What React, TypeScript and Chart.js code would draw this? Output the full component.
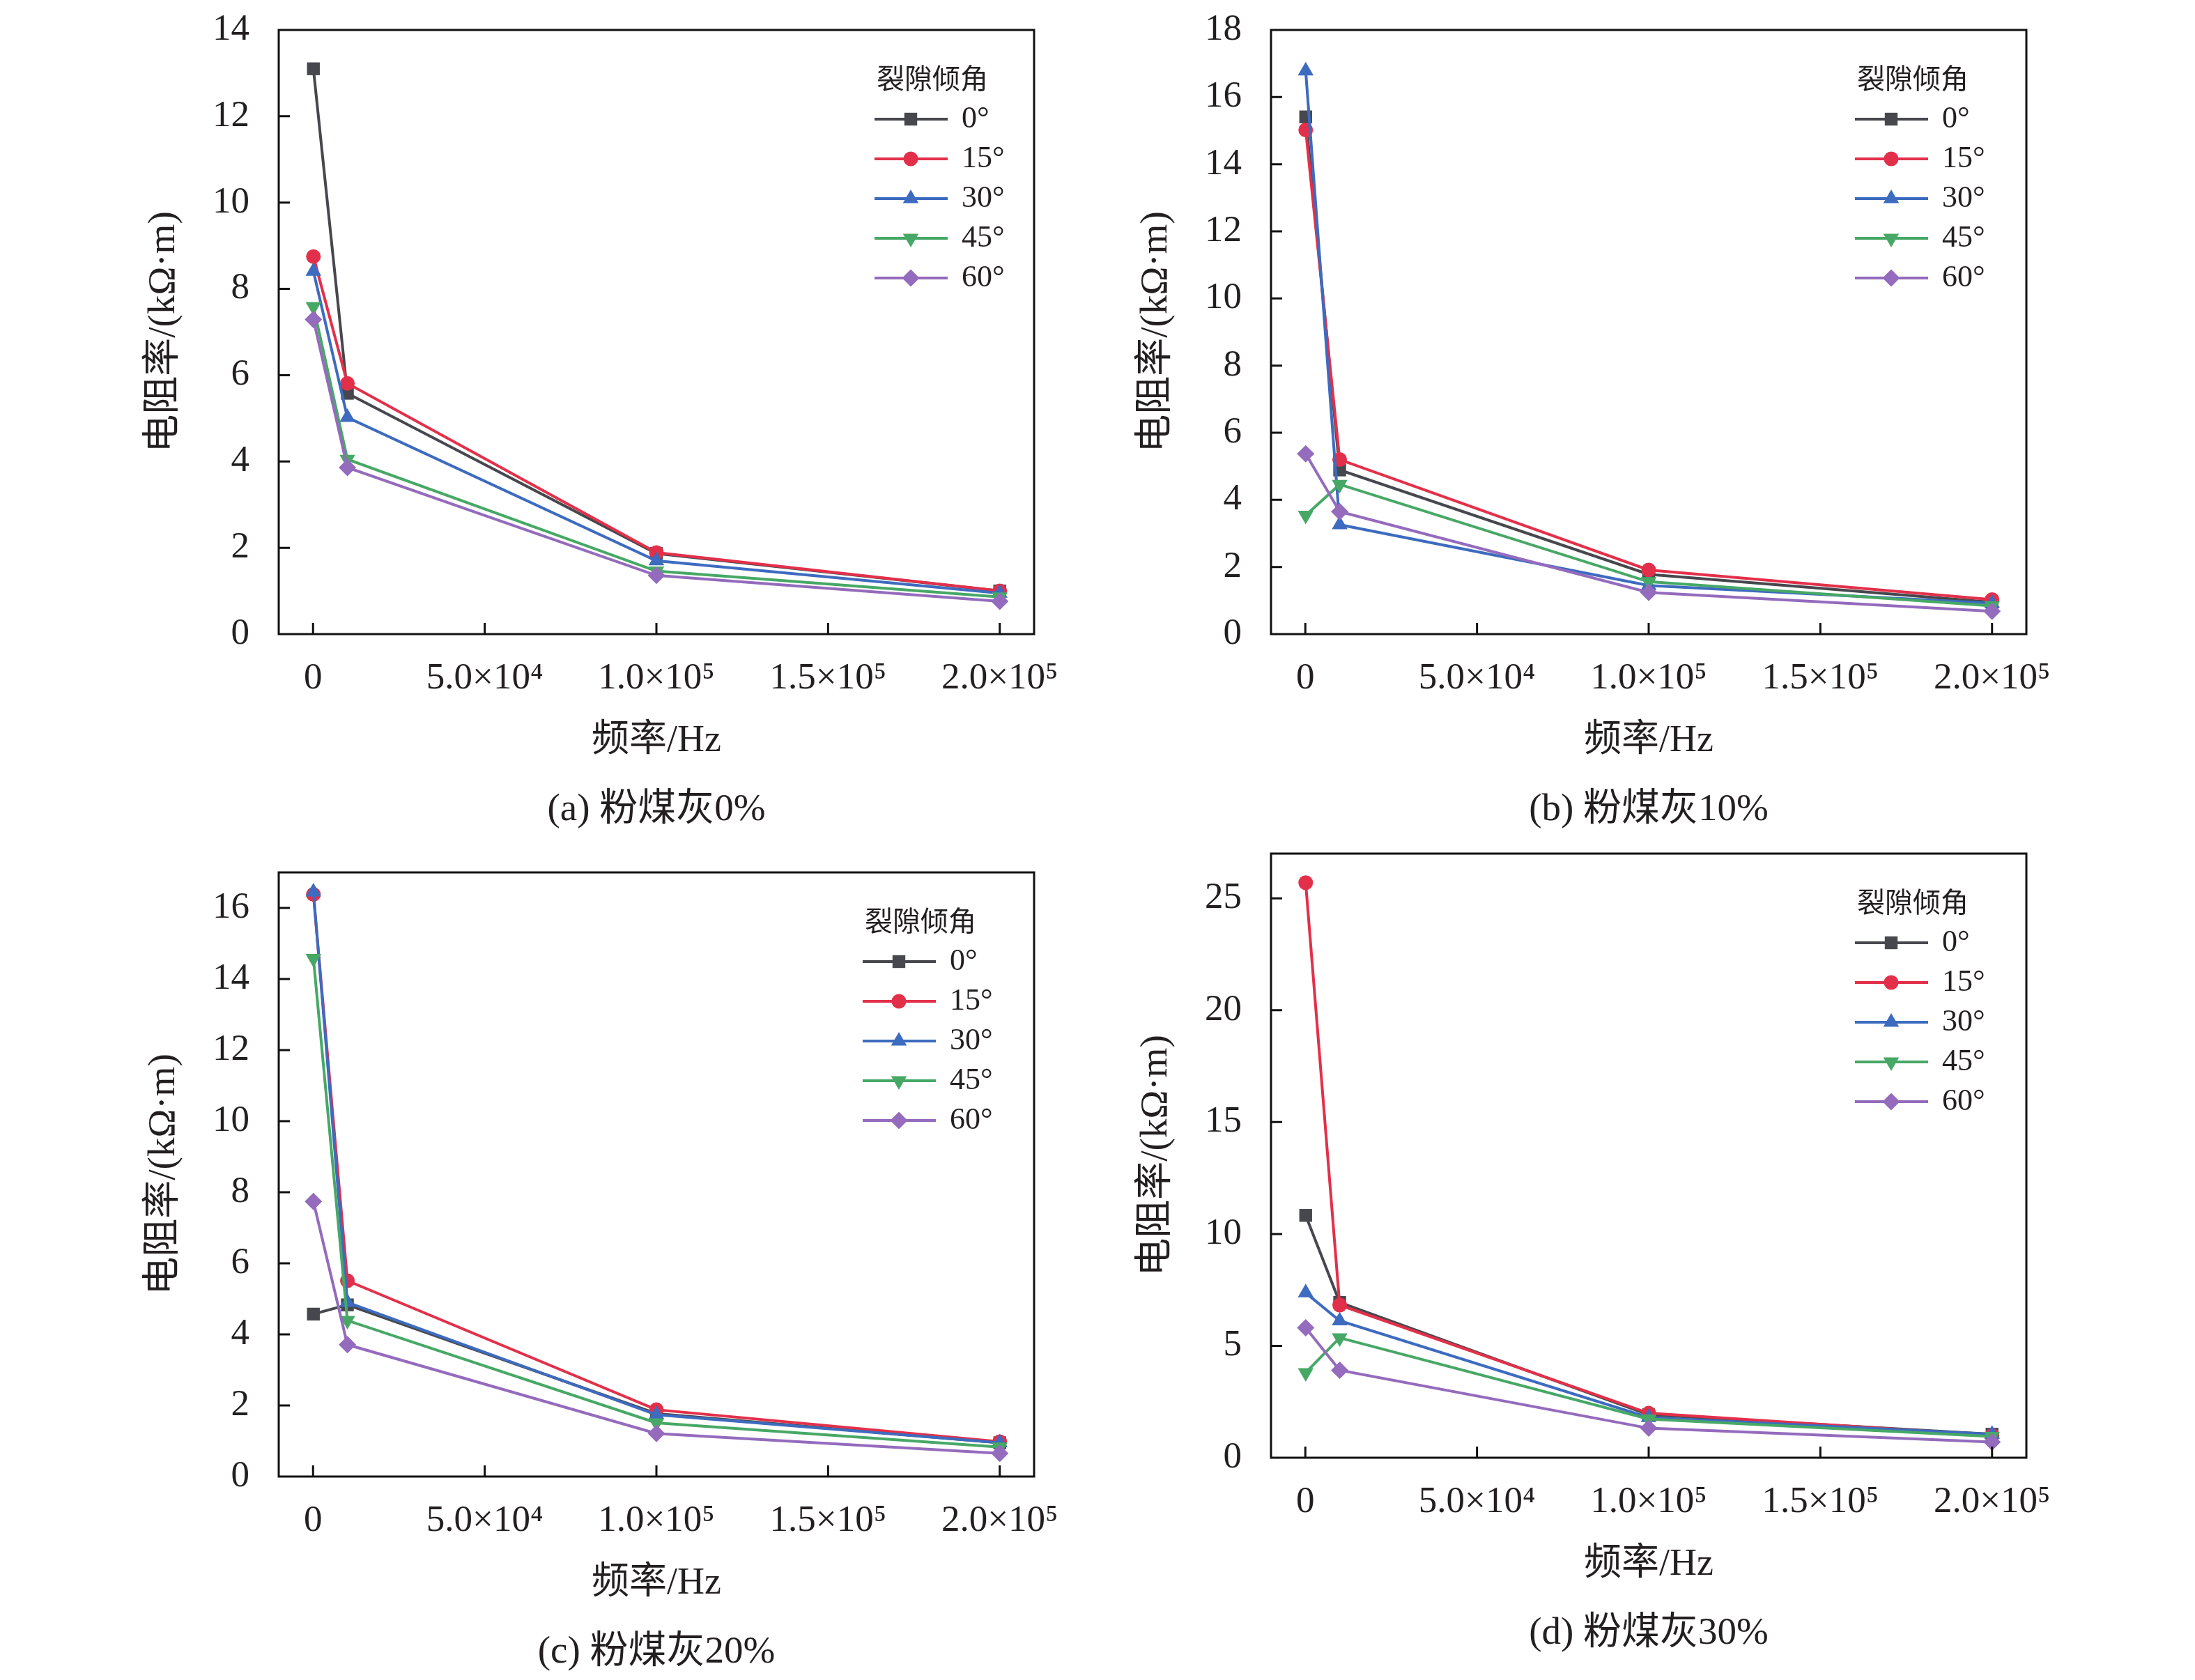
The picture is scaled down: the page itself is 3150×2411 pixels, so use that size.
import React, { useEffect, useRef } from "react";
import { Chart, registerables } from "chart.js";
import { drawPoint } from "chart.js/helpers";

Chart.register(...registerables);

// 频率 (Hz)
const frequency = [100, 10000, 100000, 200000];
const xTicks = [0, 50000, 100000, 150000, 200000];
const xTickLabels = ["0", "5.0×10⁴", "1.0×10⁵", "1.5×10⁵", "2.0×10⁵"];

// 裂隙倾角
const angleLabels = ["0°", "15°", "30°", "45°", "60°"];
const legendTitle = "裂隙倾角";

// 电阻率 (kΩ·m), one row per angle
const ash0 = [
  [13.1, 5.58, 1.87, 1.0],
  [8.75, 5.81, 1.89, 1.0],
  [8.41, 5.02, 1.7, 0.95],
  [7.59, 4.05, 1.46, 0.86],
  [7.29, 3.86, 1.36, 0.76],
];
const ash10 = [
  [15.41, 4.89, 1.78, 0.95],
  [15.02, 5.2, 1.91, 1.03],
  [16.78, 3.26, 1.45, 0.92],
  [3.54, 4.46, 1.56, 0.84],
  [5.37, 3.65, 1.24, 0.68],
];
const ash20 = [
  [4.57, 4.83, 1.77, 0.95],
  [16.38, 5.51, 1.88, 0.98],
  [16.45, 4.9, 1.74, 0.95],
  [14.58, 4.39, 1.51, 0.83],
  [7.74, 3.71, 1.21, 0.65],
];
const ash30 = [
  [10.83, 6.94, 1.92, 1.05],
  [25.7, 6.82, 1.99, 1.0],
  [7.37, 6.12, 1.8, 1.05],
  [3.8, 5.36, 1.73, 0.95],
  [5.81, 3.91, 1.32, 0.7],
];

const yTicks0 = [0, 2, 4, 6, 8, 10, 12, 14];
const yTicks10 = [0, 2, 4, 6, 8, 10, 12, 14, 16, 18];
const yTicks20 = [0, 2, 4, 6, 8, 10, 12, 14, 16];
const yTicks30 = [0, 5, 10, 15, 20, 25];

const seriesColors = ["#46484e", "#e3304a", "#3d6bbf", "#47a866", "#946bbd"];
const pointStyles = ["rect", "circle", "triangle", "triangle", "rectRot"];
const pointRotations = [0, 0, 0, 180, 0];
const pointRadii = [13, 10.5, 13, 13, 12.5];

const textColor = "#231f20";
const fontFamily = "'Liberation Serif', 'Noto Sans CJK SC', serif";

const CANVAS_W = 1560;
const CANVAS_H = 1096;

const framePlugin = {
  id: "frameTicks",
  afterDraw(chart: any) {
    const { ctx, chartArea, scales } = chart;
    const { left, right, top, bottom } = chartArea;
    ctx.save();
    ctx.strokeStyle = "#111";
    ctx.lineWidth = 3;
    ctx.strokeRect(left, top, right - left, bottom - top);
    ctx.beginPath();
    scales.x.ticks.forEach((t: any) => {
      const px = scales.x.getPixelForValue(t.value);
      ctx.moveTo(px, bottom);
      ctx.lineTo(px, bottom - 16);
    });
    scales.y.ticks.forEach((t: any) => {
      const py = scales.y.getPixelForValue(t.value);
      if (py >= bottom - 1 || py <= top + 1) return;
      ctx.moveTo(left, py);
      ctx.lineTo(left + 16, py);
    });
    ctx.stroke();
    ctx.restore();
  },
};

const legendPlugin = {
  id: "angleLegend",
  afterDatasetsDraw(chart: any, _args: any, opts: any) {
    const { ctx, chartArea } = chart;
    const x0 = chartArea.right - opts.offsetX;
    ctx.save();
    ctx.textBaseline = "middle";
    ctx.textAlign = "left";
    ctx.fillStyle = textColor;
    ctx.font = `40px ${fontFamily}`;
    ctx.fillText(legendTitle, x0 + 3, chartArea.top + 73);
    chart.data.datasets.forEach((ds: any, i: number) => {
      const y = chartArea.top + 128 + i * 57;
      ctx.strokeStyle = ds.borderColor;
      ctx.lineWidth = 4;
      ctx.beginPath();
      ctx.moveTo(x0, y);
      ctx.lineTo(x0 + 105, y);
      ctx.stroke();
      ctx.fillStyle = ds.borderColor;
      drawPoint(
        ctx,
        { pointStyle: ds.pointStyle, rotation: ds.pointRotation, radius: ds.pointRadius, borderWidth: 0 },
        x0 + 52,
        y
      );
      ctx.fillStyle = textColor;
      ctx.font = `44px ${fontFamily}`;
      ctx.fillText(ds.label, x0 + 125, y);
    });
    ctx.restore();
  },
};

interface PanelProps {
  series: number[][];
  yMax: number;
  yTicks: number[];
  legendOffset: number;
  left: number;
  top: number;
}

const ResistivityPanel: React.FC<PanelProps> = ({ series, yMax, yTicks, legendOffset, left, top }) => {
  const canvasRef = useRef<HTMLCanvasElement>(null);

  useEffect(() => {
    if (!canvasRef.current) return;
    const chart = new Chart(canvasRef.current, {
      type: "line",
      data: {
        datasets: series.map((vals, i) => ({
          label: angleLabels[i],
          data: frequency.map((f, j) => ({ x: f, y: vals[j] })),
          borderColor: seriesColors[i],
          backgroundColor: seriesColors[i],
          pointBackgroundColor: seriesColors[i],
          pointBorderColor: seriesColors[i],
          pointBorderWidth: 0,
          pointStyle: pointStyles[i] as any,
          pointRotation: pointRotations[i],
          pointRadius: pointRadii[i],
          borderWidth: 4,
          tension: 0,
          order: 4 - i,
        })),
      },
      options: {
        responsive: false,
        animation: false,
        devicePixelRatio: 1,
        layout: { padding: { top: 43, right: 76, bottom: 0, left: 0 } },
        scales: {
          x: {
            type: "linear",
            min: -10000,
            max: 210000,
            afterBuildTicks: (s: any) => {
              s.ticks = xTicks.map((v) => ({ value: v }));
            },
            afterFit: (s: any) => {
              s.height = 186;
              s.paddingLeft = 0;
              s.paddingRight = 0;
            },
            grid: { display: false, drawTicks: false },
            border: { display: false },
            ticks: {
              autoSkip: false,
              maxRotation: 0,
              padding: 32,
              color: textColor,
              font: { size: 53, family: fontFamily },
              callback: (v: any) => xTickLabels[xTicks.indexOf(Number(v))],
            },
            title: {
              display: true,
              text: "频率/Hz",
              color: textColor,
              font: { size: 54, family: fontFamily },
              padding: { top: 0, bottom: 0 },
            },
          },
          y: {
            type: "linear",
            min: 0,
            max: yMax,
            afterBuildTicks: (s: any) => {
              s.ticks = yTicks.map((v) => ({ value: v }));
            },
            afterFit: (s: any) => {
              s.width = 400;
              s.paddingTop = 0;
              s.paddingBottom = 0;
            },
            grid: { display: false, drawTicks: false },
            border: { display: false },
            ticks: {
              padding: 42,
              color: textColor,
              font: { size: 53, family: fontFamily },
            },
            title: {
              display: true,
              text: "电阻率/(kΩ·m)",
              color: textColor,
              font: { size: 55, family: fontFamily },
              padding: { top: 203, bottom: 0 },
            },
          },
        },
        plugins: {
          legend: { display: false },
          tooltip: { enabled: false },
          angleLegend: { offsetX: legendOffset },
        } as any,
      },
      plugins: [framePlugin, legendPlugin],
    });
    return () => chart.destroy();
  }, [series, yMax, yTicks, legendOffset]);

  return (
    <div style={{ position: "absolute", left, top, width: CANVAS_W, height: CANVAS_H }}>
      <canvas ref={canvasRef} width={CANVAS_W} height={CANVAS_H} />
    </div>
  );
};

const Caption: React.FC<{ text: string; x: number; y: number }> = ({ text, x, y }) => (
  <div
    style={{
      position: "absolute",
      left: x,
      top: y,
      transform: "translate(-50%, -50%)",
      whiteSpace: "nowrap",
      fontSize: 55,
      lineHeight: 1,
      fontFamily,
      color: textColor,
    }}
  >
    {text}
  </div>
);

export default function App() {
  return (
    <div style={{ position: "absolute", left: 0, top: 0, width: 3150, height: 2411, background: "#fff", overflow: "hidden" }}>
      <ResistivityPanel series={ash0} yMax={14} yTicks={yTicks0} legendOffset={229} left={0} top={0} />
      <ResistivityPanel series={ash10} yMax={18} yTicks={yTicks10} legendOffset={246} left={1424} top={0} />
      <ResistivityPanel series={ash20} yMax={17} yTicks={yTicks20} legendOffset={246} left={0} top={1209} />
      <ResistivityPanel series={ash30} yMax={27} yTicks={yTicks30} legendOffset={246} left={1424} top={1182} />
      <Caption text="(a) 粉煤灰0%" x={942} y={1158} />
      <Caption text="(b) 粉煤灰10%" x={2366} y={1158} />
      <Caption text="(c) 粉煤灰20%" x={942} y={2367} />
      <Caption text="(d) 粉煤灰30%" x={2366} y={2340} />
    </div>
  );
}
